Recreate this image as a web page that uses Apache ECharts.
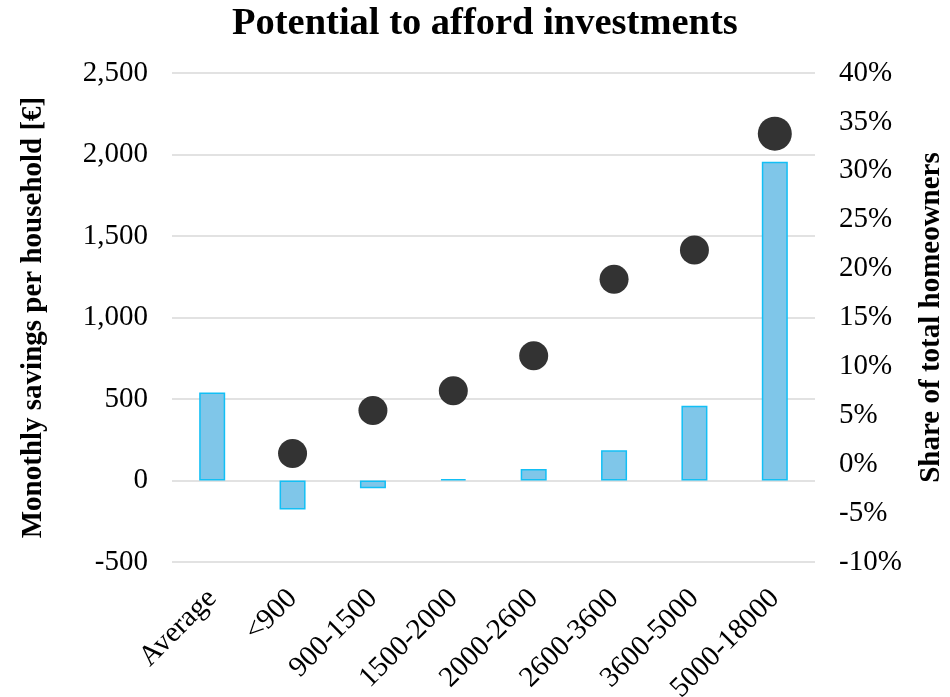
<!DOCTYPE html>
<html>
<head>
<meta charset="utf-8">
<script src="https://cdn.jsdelivr.net/npm/echarts@6/dist/echarts.min.js"></script>
<style>
html,body{margin:0;padding:0;background:#fff;}
#chart{width:950px;height:697px;}
</style>
</head>
<body>
<div id="chart"></div>
<script>
const categories = ['Average', '<900', '900-1500', '1500-2000', '2000-2600', '2600-3600', '3600-5000', '5000-18000'];
const monthlySavings = [540, -178, -48, 8, 71, 185, 459, 1956];
const shareHomeowners = [null, 1.1, 5.5, 7.5, 11.1, 18.9, 21.9, 33.8];
const leftTicks = { min: -500, max: 2500, interval: 500 };
const rightTicks = { min: -10, max: 40, interval: 5 };

const FONT = '"Liberation Serif", "Times New Roman", serif';
const chart = echarts.init(document.getElementById('chart'), null, { renderer: 'canvas' });
chart.setOption({
  animation: false,
  backgroundColor: '#ffffff',
  title: {
    text: 'Potential to afford investments',
    left: 227,
    top: 0,
    textStyle: { fontFamily: FONT, fontSize: 38.5, fontWeight: 'bold', color: '#000' }
  },
  grid: { left: 172, right: 135, top: 73, bottom: 135, outerBoundsMode: 'none', containLabel: false },
  xAxis: {
    type: 'category',
    data: categories,
    axisLine: { show: false, onZero: false },
    axisTick: { show: false },
    axisLabel: {
      rotate: 45,
      interval: 0,
      margin: 32,
      fontFamily: FONT,
      fontSize: 29,
      color: '#000'
    }
  },
  yAxis: [
    {
      type: 'value',
      min: leftTicks.min, max: leftTicks.max, interval: leftTicks.interval,
      name: 'Monothly savings per household [€]',
      nameLocation: 'middle',
      nameGap: 124,
      nameRotate: 90,
      nameTextStyle: { fontFamily: FONT, fontSize: 29, fontWeight: 'bold', color: '#000' },
      axisLine: { show: false },
      axisTick: { show: false },
      splitLine: { show: true, lineStyle: { color: '#d9d9d9', width: 1.5 } },
      axisLabel: {
        margin: 24,
        fontFamily: FONT, fontSize: 29, color: '#000',
        formatter: v => v.toLocaleString('en-US')
      }
    },
    {
      type: 'value',
      min: rightTicks.min, max: rightTicks.max, interval: rightTicks.interval,
      position: 'right',
      name: 'Share of total homeowners',
      nameLocation: 'middle',
      nameGap: 102,
      nameRotate: 90,
      nameTextStyle: { fontFamily: FONT, fontSize: 29, fontWeight: 'bold', color: '#000' },
      axisLine: { show: false },
      axisTick: { show: false },
      splitLine: { show: false },
      axisLabel: {
        margin: 24,
        fontFamily: FONT, fontSize: 29, color: '#000',
        formatter: v => v + '%'
      }
    }
  ],
  series: [
    {
      type: 'bar',
      yAxisIndex: 0,
      data: monthlySavings,
      barWidth: 26,
      itemStyle: { color: '#7fc6e9', borderColor: '#12bff5', borderWidth: 1.5 }
    },
    {
      type: 'scatter',
      yAxisIndex: 1,
      data: shareHomeowners,
      symbol: 'circle',
      symbolSize: (val, params) => params.dataIndex === categories.length - 1 ? 34 : 29,
      itemStyle: { color: '#333333', opacity: 1 },
      z: 5
    }
  ]
});
</script>
</body>
</html>
